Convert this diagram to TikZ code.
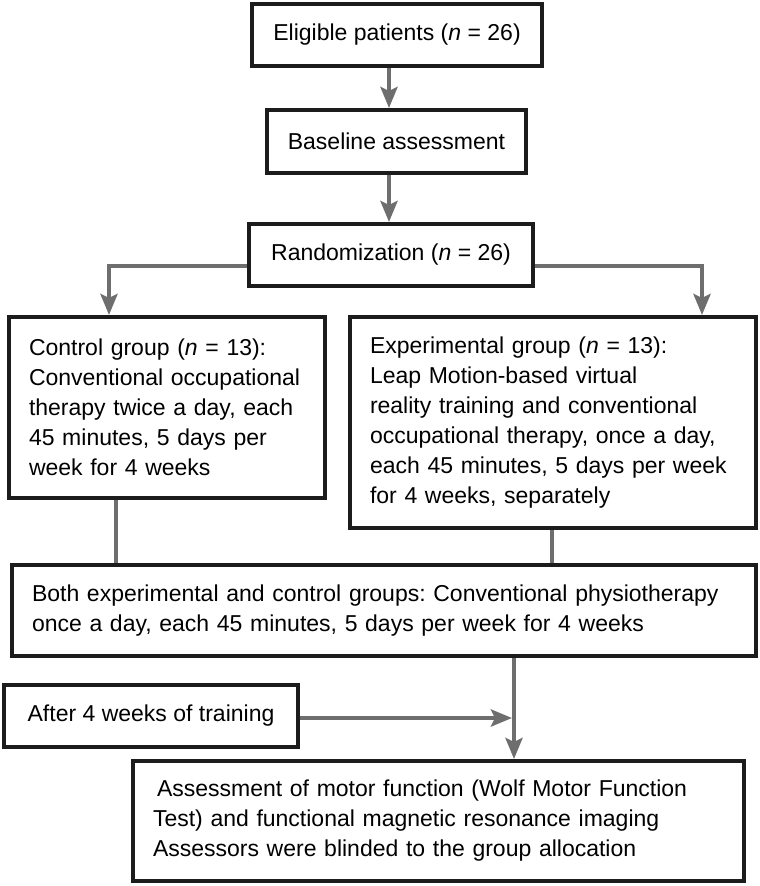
\documentclass[tikz,border=0pt]{standalone}
\usepackage{fontspec}
\setmainfont{Liberation Sans}
\frenchspacing
\usetikzlibrary{arrows.meta}
\definecolor{gline}{RGB}{110,110,110}
\definecolor{bline}{RGB}{28,28,28}
\tikzset{
  box/.style={draw=bline, line width=4pt, fill=white, inner ysep=0pt,
    font=\fontsize{23}{30}\selectfont, anchor=center},
  cbox/.style={box, align=center},
  lbox/.style={box, align=left, inner xsep=20pt},
  conn/.style={draw=gline, line width=4.5pt},
  arr/.style={conn, -{Stealth[length=21pt,width=17pt,inset=4pt]}}
}
\begin{document}
\begin{tikzpicture}[x=1pt,y=-1pt]
\useasboundingbox (0,0) rectangle (760,886);
% boxes
\node[cbox, minimum width=290pt, minimum height=62pt] (b1) at (397,35) {Eligible patients (\textit{n} = 26)};
\node[cbox, minimum width=259pt, minimum height=63pt] (b2) at (396.5,141.5) {Baseline assessment};
\node[cbox, minimum width=284pt, minimum height=62pt] (b3) at (391,255) {Randomization (\textit{n} = 26)};
\node[lbox, text width=276pt, minimum height=181pt] (b4) at (167,407.5) {Control group (\textit{n} = 13):\\Conventional occupational\\therapy twice a day, each\\45 minutes, 5 days per\\week for 4 weeks};
\node[lbox, text width=366pt, minimum height=211pt] (b5) at (553,422.5) {Experimental group (\textit{n} = 13):\\Leap Motion-based virtual\\reality training and conventional\\occupational therapy, once a day,\\each 45 minutes, 5 days per week\\for 4 weeks, separately};
\node[lbox, text width=704pt, minimum height=91pt] (b6) at (384,610.5) {Both experimental and control groups: Conventional physiotherapy\\once a day, each 45 minutes, 5 days per week for 4 weeks};
\node[cbox, minimum width=294pt, minimum height=62pt] (b7) at (151,716) {After 4 weeks of training};
\node[lbox, text width=571pt, minimum height=120pt] (b8) at (438.5,821) {\hspace*{4pt}Assessment of motor function (Wolf Motor Function\\Test) and functional magnetic resonance imaging\\Assessors were blinded to the group allocation};
% helper coordinates
\coordinate (ax) at (389,0);
\coordinate (ly) at (0,266);
\coordinate (lx) at (109,0);
\coordinate (rx) at (702,0);
\coordinate (cx) at (116,0);
\coordinate (ex) at (552,0);
\coordinate (dx) at (514,0);
\coordinate (mj) at (512,718);
% connectors
\draw[arr] (b1.south -| ax) -- (b2.north -| ax);
\draw[arr] (b2.south -| ax) -- (b3.north -| ax);
\draw[arr] (b3.west |- ly) -| (b4.north -| lx);
\draw[arr] (b3.east |- ly) -| (b5.north -| rx);
\draw[conn] (b4.south -| cx) -- (b6.north -| cx);
\draw[conn] (b5.south -| ex) -- (b6.north -| ex);
\draw[arr] (b6.south -| dx) -- (b8.north -| dx);
\draw[arr] (b7.east |- mj) -- (mj);
\end{tikzpicture}
\end{document}
